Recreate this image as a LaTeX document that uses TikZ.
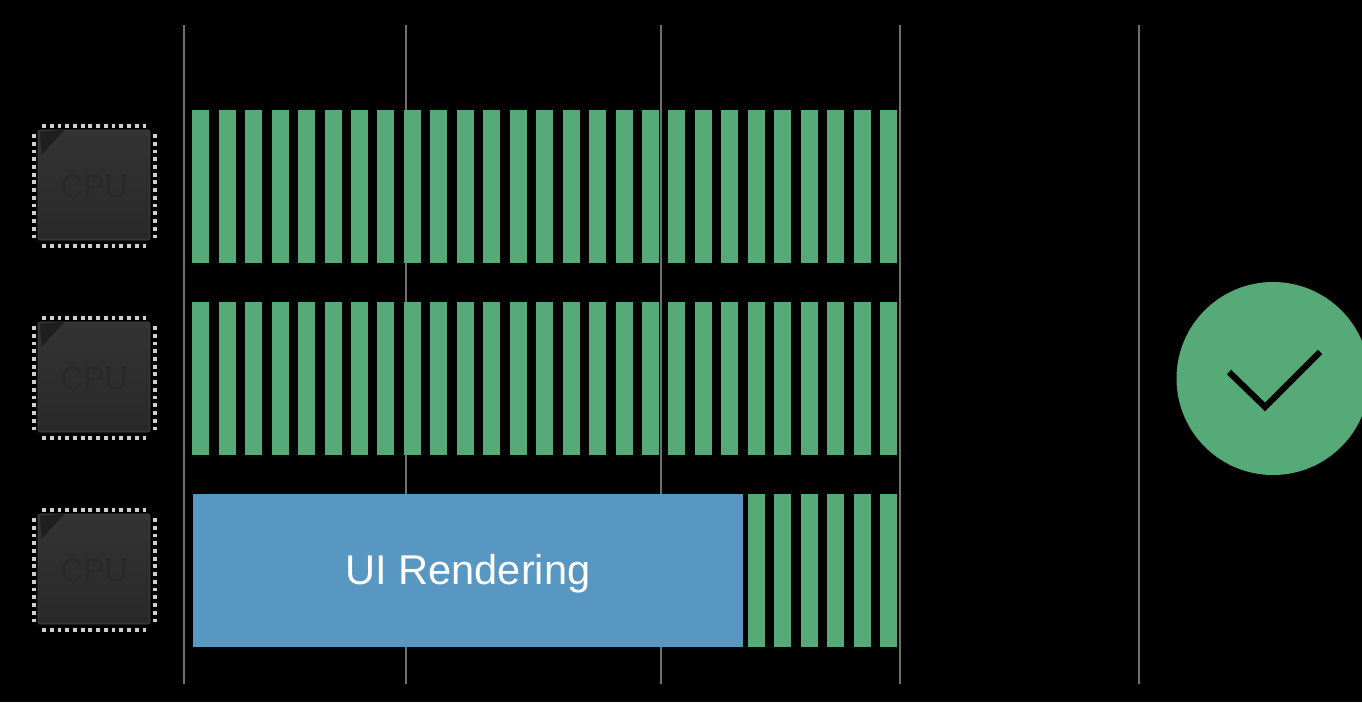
\documentclass[tikz,border=0pt]{standalone}
\usepackage{xcolor}
\usepackage{fontspec}
\setmainfont{Liberation Sans}
\usetikzlibrary{positioning, calc}
\definecolor{taskgreen}{HTML}{55AA78}
\definecolor{uiblue}{HTML}{5897C2}
\definecolor{gridgrey}{HTML}{707070}
\definecolor{pingrey}{HTML}{CFCFCF}
\tikzset{
    gridline/.style={draw=gridgrey, line width=1.1pt},
    taskbar/.style={rectangle, fill=taskgreen, inner sep=0pt, minimum width=17pt, minimum height=153pt, anchor=north west},
    uibox/.style={rectangle, fill=uiblue, inner sep=0pt, minimum width=549.5pt, minimum height=153pt, anchor=north west},
    uitext/.style={text=white, font=\fontsize{41.6}{42}\selectfont},
    chip/.style={rectangle, rounded corners=1.5pt, inner sep=0pt, minimum width=112pt, minimum height=110pt, top color=black!80, bottom color=black!84, draw=black!72, line width=0.6pt},
    chiptext/.style={text=black!84, font=\fontsize{32}{32}\selectfont},
    chippin/.style={rectangle, fill=pingrey, inner sep=0pt, minimum width=3.8pt, minimum height=3.8pt},
    okcircle/.style={circle, fill=taskgreen, inner sep=0pt, minimum size=193pt},
    tick/.style={draw=black, line width=6.2pt, miter limit=10}
}
\begin{document}
\begin{tikzpicture}[x=1pt, y=-1pt]
    \useasboundingbox (0,0) rectangle (1362,702);
    \clip (0,0) rectangle (1362,702);
    \fill [black] (0,0) rectangle (1362,702);

    % time grid
    \foreach \n/\x in {a/184, b/406, c/661, d/900, e/1139} {
        \coordinate (top\n) at (\x,25);
        \coordinate (bot\n) at (\x,684);
        \draw [gridline] (top\n) -- (bot\n);
    }

    % cores
    \foreach \r/\cy in {1/185, 2/377, 3/569} {
        \node [chip] (cpu\r) at (94,\cy) {};
        \fill [black!88] ([shift={(2pt,-2pt)}]cpu\r.north west) -- ++(25pt,2pt) -- ++(-23pt,-25pt) -- cycle;
        \node [chiptext, yshift=-1pt] (label\r) at (cpu\r) {CPU};
        \foreach \k in {0,...,13} {
            \pgfmathsetmacro{\off}{-50+7.73*\k}
            \node [chippin] (pint\r\k) at ($(cpu\r)+(\off,-59)$) {};
            \node [chippin] (pinb\r\k) at ($(cpu\r)+(\off,61)$) {};
            \node [chippin] (pinl\r\k) at ($(cpu\r)+(-60,\off+1)$) {};
            \node [chippin] (pinr\r\k) at ($(cpu\r)+(61,\off+1)$) {};
        }
    }

    % work on the first two rows
    \foreach \r/\ty in {1/110, 2/302} {
        \foreach \i in {0,...,26} {
            \node [taskbar] (bar\r\i) at ({192+26.46*\i},\ty) {};
        }
    }

    % third row
    \node [uibox] (ui) at (193,494) {};
    \node [uitext, yshift=-3pt] (uilabel) at (ui) {UI Rendering};
    \foreach \i in {21,...,26} {
        \node [taskbar] (bar3\i) at ({192+26.46*\i},494) {};
    }

    % result
    \node [okcircle] (ok) at (1273,378.5) {};
    \coordinate (tickl) at (1229,372);
    \coordinate (tickm) at (1265,407);
    \coordinate (tickr) at (1320,352);
    \draw [tick] (tickl) -- (tickm) -- (tickr);
\end{tikzpicture}
\end{document}
